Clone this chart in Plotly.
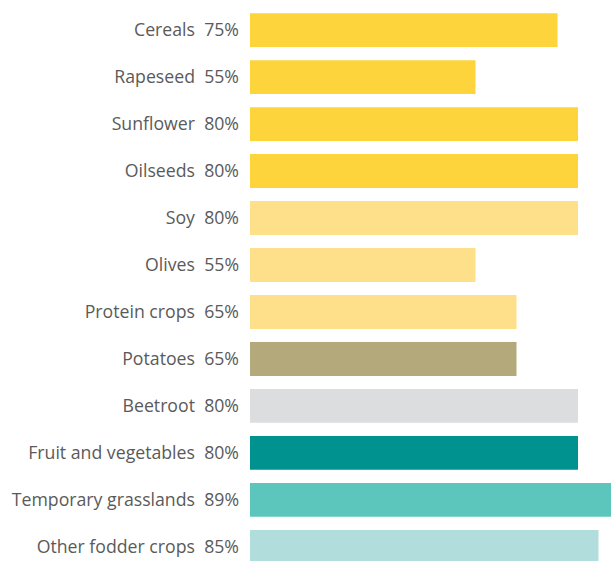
import plotly.graph_objects as go

# Data
categories = ["Cereals", "Rapeseed", "Sunflower", "Oilseeds", "Soy", "Olives",
              "Protein crops", "Potatoes", "Beetroot", "Fruit and vegetables",
              "Temporary grasslands", "Other fodder crops"]
shares = [75, 55, 80, 80, 80, 55, 65, 65, 80, 80, 89, 85]
bar_colors = ["#FDD43B", "#FDD43B", "#FDD43B", "#FDD43B",
              "#FEE08B", "#FEE08B", "#FEE08B",
              "#B3A97A", "#DCDDDE", "#00928F", "#5CC5BC", "#B1DEDC"]

labels = [f"{c}  {v}%" for c, v in zip(categories, shares)]

fig = go.Figure()

fig.add_trace(
    go.Bar(
        x=shares,
        y=list(range(len(categories))),
        orientation="h",
        marker=dict(color=bar_colors, line=dict(width=0)),
        width=0.72,
        hoverinfo="skip",
    )
)

fig.update_layout(
    width=611,
    height=561,
    margin=dict(l=250, r=0, t=0, b=0),
    paper_bgcolor="white",
    plot_bgcolor="white",
    showlegend=False,
    font=dict(family="Open Sans", size=17.7, color="#5A5A5A"),
    xaxis=dict(range=[0, 88.05], visible=False, fixedrange=True),
    yaxis=dict(
        range=[11.3, -0.64],
        tickmode="array",
        tickvals=list(range(len(categories))),
        ticktext=labels,
        showgrid=False,
        zeroline=False,
        showline=False,
        ticks="",
        ticklabelstandoff=10,
        automargin=False,
        fixedrange=True,
    ),
)

# drop the default page margin so the figure sits at the window's corner
fig.write_html("out.html", config={"displayModeBar": False},
               post_script="document.body.style.margin='0';")
